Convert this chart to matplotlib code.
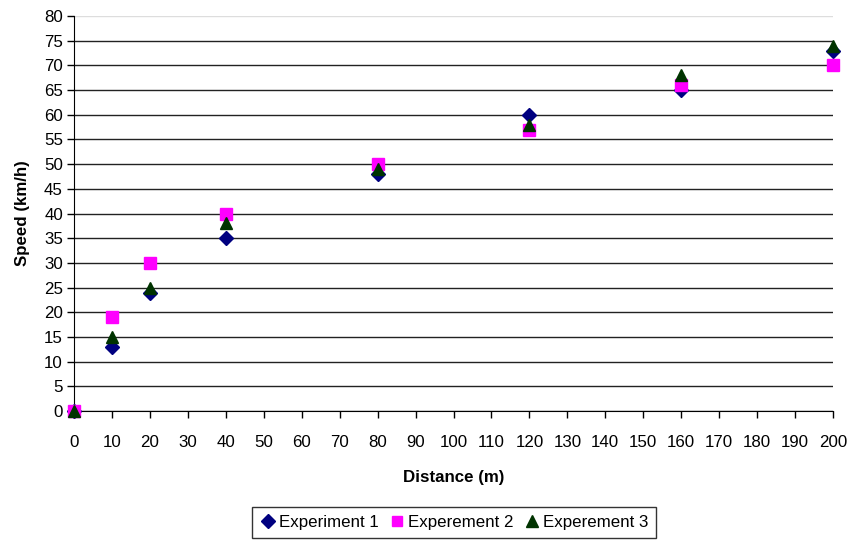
import matplotlib
matplotlib.use("Agg")
import matplotlib.pyplot as plt

plt.rcParams['font.family'] = ['Liberation Sans', 'DejaVu Sans']

distance = [0, 10, 20, 40, 80, 120, 160, 200]
exp1 = [0, 13, 24, 35, 48, 60, 65, 73]
exp2 = [0, 19, 30, 40, 50, 57, 66, 70]
exp3 = [0, 15, 25, 38, 49, 58, 68, 74]
x_ticks = list(range(0, 201, 10))
y_ticks = list(range(0, 81, 5))

fig = plt.figure(figsize=(8.51, 5.42), dpi=100)
ax = fig.add_axes([74/851, 131/542, (833-74)/851, (411-16)/542])

ax.plot(distance, exp1, linestyle='none', marker='D', color='#000080', ms=7.5, label='Experiment 1', clip_on=False, zorder=3)
ax.plot(distance, exp2, linestyle='none', marker='s', color='#FF00FF', ms=8.5, label='Experement 2', clip_on=False, zorder=3)
ax.plot(distance, exp3, linestyle='none', marker='^', color='#003300', ms=9, label='Experement 3', clip_on=False, zorder=4)

ax.set_xlim(0, 200)
ax.set_ylim(0, 80)
ax.set_xticks(x_ticks)
ax.set_yticks(y_ticks)
ax.tick_params(axis='both', labelsize=12.2, length=5, width=1, color='black', direction='out')
ax.tick_params(axis='x', pad=12)
ax.tick_params(axis='y', pad=3)

ax.grid(axis='y', color='#222222', linewidth=1)
ax.set_axisbelow(True)
ax.yaxis.get_gridlines()[-1].set_color('#dddddd')
for s in ['top', 'right']:
    ax.spines[s].set_visible(False)
ax.spines['left'].set_color('black')
ax.spines['bottom'].set_color('black')

ax.set_xlabel('Distance (m)', fontsize=12.2, fontweight='bold', labelpad=15)
ax.set_ylabel('Speed (km/h)', fontsize=12.2, fontweight='bold', labelpad=10)

leg = fig.legend(loc='center', bbox_to_anchor=(454/851, 1 - 522.5/542), ncol=3, fontsize=12.2,
                 frameon=True, fancybox=False, edgecolor='black', handletextpad=0.15,
                 columnspacing=0.6, borderpad=0.45, handlelength=1.0, markerscale=0.9)
leg.get_frame().set_linewidth(1)

fig.savefig('out.png', dpi=100)
